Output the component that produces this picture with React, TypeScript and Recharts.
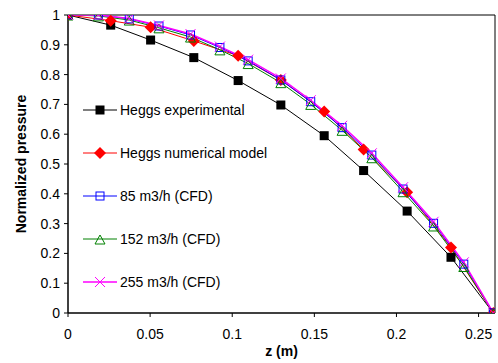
import React from 'react';
import { LineChart, Line, XAxis, YAxis, ReferenceLine, Label } from 'recharts';

const heggsZ = [0, 0.026, 0.0503, 0.0766, 0.1036, 0.1296, 0.156, 0.18, 0.2065, 0.2332, 0.259];
const experimental = [1, 0.966, 0.916, 0.857, 0.78, 0.698, 0.595, 0.478, 0.342, 0.187, 0];
const numerical = [1, 0.981, 0.959, 0.913, 0.863, 0.782, 0.676, 0.549, 0.405, 0.22, 0];

const cfdZ = [0, 0.0185, 0.0373, 0.0554, 0.0746, 0.0925, 0.1097, 0.1296, 0.1478, 0.1669, 0.185, 0.204, 0.2226, 0.241, 0.259];
const cfd85 = [1, 1.0, 0.987, 0.963, 0.933, 0.891, 0.846, 0.782, 0.709, 0.622, 0.53, 0.416, 0.301, 0.164, 0];
const cfd152 = [1, 0.997, 0.983, 0.957, 0.926, 0.883, 0.837, 0.773, 0.7, 0.613, 0.521, 0.407, 0.292, 0.156, 0];
const cfd255 = [1, 1.0, 0.988, 0.965, 0.936, 0.894, 0.85, 0.787, 0.714, 0.628, 0.536, 0.422, 0.306, 0.17, 0];

const xTicks = [0, 0.05, 0.1, 0.15, 0.2, 0.25];
const yTicks = [0, 0.1, 0.2, 0.3, 0.4, 0.5, 0.6, 0.7, 0.8, 0.9, 1];

const toRows = (zs: number[], vals: number[]) => zs.map((z, i) => ({ z, p: vals[i] }));

type MarkerKind = 'square' | 'diamond' | 'openSquare' | 'triangle' | 'cross';

const series: { name: string; color: string; marker: MarkerKind; width: number; data: { z: number; p: number }[] }[] = [
  { name: 'Heggs experimental', color: '#000000', marker: 'square', width: 1, data: toRows(heggsZ, experimental) },
  { name: 'Heggs numerical model', color: '#ff0000', marker: 'diamond', width: 1, data: toRows(heggsZ, numerical) },
  { name: '85 m3/h (CFD)', color: '#0000ff', marker: 'openSquare', width: 1, data: toRows(cfdZ, cfd85) },
  { name: '152 m3/h (CFD)', color: '#008000', marker: 'triangle', width: 1, data: toRows(cfdZ, cfd152) },
  { name: '255 m3/h (CFD)', color: '#ff00ff', marker: 'cross', width: 1.5, data: toRows(cfdZ, cfd255) },
];

const font = '"Liberation Sans", Arial, sans-serif';

const drawMarker = (kind: MarkerKind, color: string, cx: number, cy: number, key?: string | number) => {
  switch (kind) {
    case 'square':
      return <rect key={key} x={cx - 4.5} y={cy - 4.5} width={9} height={9} fill={color} />;
    case 'diamond':
      return <polygon key={key} points={`${cx},${cy - 6} ${cx + 6},${cy} ${cx},${cy + 6} ${cx - 6},${cy}`} fill={color} />;
    case 'openSquare':
      return <rect key={key} x={cx - 4} y={cy - 4} width={8} height={8} fill="none" stroke={color} strokeWidth={1} />;
    case 'triangle':
      return <polygon key={key} points={`${cx},${cy - 4} ${cx + 5},${cy + 5} ${cx - 5},${cy + 5}`} fill="none" stroke={color} strokeWidth={1} />;
    case 'cross':
      return (
        <g key={key} stroke={color} strokeWidth={1}>
          <line x1={cx - 5} y1={cy - 5} x2={cx + 5} y2={cy + 5} />
          <line x1={cx - 5} y1={cy + 5} x2={cx + 5} y2={cy - 5} />
        </g>
      );
  }
};

const LegendBox = () => (
  <div style={{ position: 'absolute', left: 83, top: 88, fontFamily: font, fontSize: 14, color: '#000' }}>
    {series.map((s) => (
      <div key={s.name} style={{ display: 'flex', alignItems: 'center', height: 43 }}>
        <svg width={37} height={14} style={{ overflow: 'visible' }}>
          <line x1={0} y1={7} x2={34} y2={7} stroke={s.color} strokeWidth={s.width} />
          {drawMarker(s.marker, s.color, 17, 7)}
        </svg>
        <span style={{ whiteSpace: 'nowrap' }}>{s.name}</span>
      </div>
    ))}
  </div>
);

const tickStyle = { fontSize: 14, fill: '#000', fontFamily: font };

export default function App() {
  return (
    <div style={{ position: 'absolute', left: 0, top: 0, width: 498, height: 363, background: '#fff' }}>
      <LineChart width={498} height={363} margin={{ top: 15, right: 3, bottom: 0, left: 0 }}>
        <XAxis
          type="number"
          dataKey="z"
          domain={[0, 0.26]}
          ticks={xTicks}
          allowDataOverflow
          tickFormatter={(v: number) => String(v)}
          tick={tickStyle}
          tickSize={4}
          tickMargin={12}
          height={50}
          axisLine={{ stroke: '#000', strokeWidth: 1.5 }}
          tickLine={{ stroke: '#000' }}
        >
          <Label
            value="z (m)"
            position="center"
            dy={13}
            style={{ fontSize: 14, fontWeight: 700, fill: '#000', fontFamily: font }}
          />
        </XAxis>
        <YAxis
          type="number"
          dataKey="p"
          domain={[0, 1]}
          ticks={yTicks}
          allowDataOverflow
          tickFormatter={(v: number) => String(v)}
          tick={tickStyle}
          tickSize={4}
          tickMargin={4}
          width={68}
          axisLine={{ stroke: '#000', strokeWidth: 1.5 }}
          tickLine={{ stroke: '#000' }}
        >
          <Label
            value="Normalized pressure"
            angle={-90}
            position="center"
            dx={-13}
            style={{ fontSize: 14, fontWeight: 700, fill: '#000', fontFamily: font, textAnchor: 'middle' }}
          />
        </YAxis>
        <ReferenceLine y={1} stroke="#000" strokeWidth={1} />
        <ReferenceLine x={0.26} stroke="#000" strokeWidth={1} />
        {series.map((s) => (
          <Line
            key={s.name}
            name={s.name}
            data={s.data}
            dataKey="p"
            type="linear"
            stroke={s.color}
            strokeWidth={s.width}
            isAnimationActive={false}
            activeDot={false}
            dot={(props: any) => drawMarker(s.marker, s.color, props.cx, props.cy, `${s.name}-${props.index}`)}
          />
        ))}
      </LineChart>
      <LegendBox />
    </div>
  );
}
